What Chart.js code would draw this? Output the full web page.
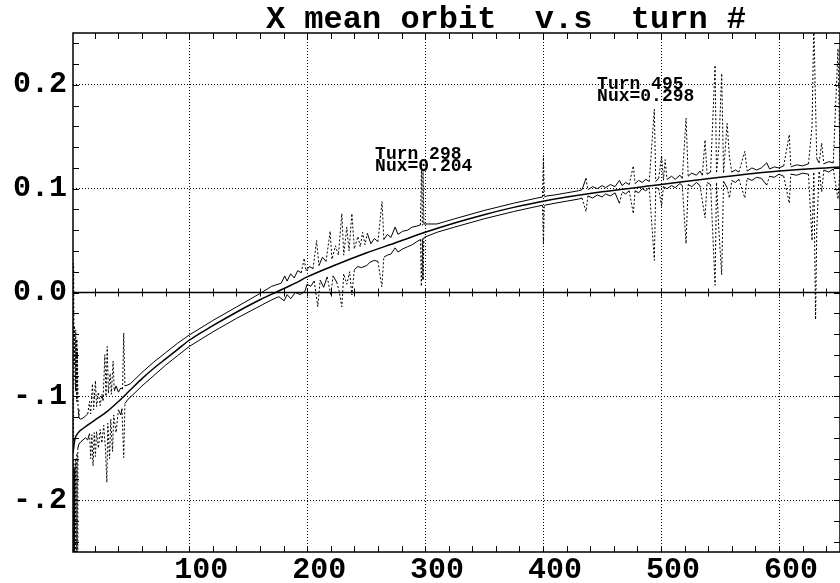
<!DOCTYPE html>
<html>
<head>
<meta charset="utf-8">
<title>X mean orbit v.s turn #</title>
<script src="https://cdn.jsdelivr.net/npm/chart.js@4.4.1/dist/chart.umd.min.js"></script>
<style>
html, body { margin: 0; padding: 0; background: #fff; overflow: hidden; }
#wrap { width: 840px; height: 583px; }
</style>
</head>
<body>
<div id="wrap"><canvas id="orbitChart"></canvas></div>
<script>
// X mean orbit vs turn number (tracking output)

const chartTitle = 'X mean orbit  v.s  turn #';
const xTicks = [100, 200, 300, 400, 500, 600];
const yTicks = [-0.2, -0.1, 0.0, 0.1, 0.2];
const yTickLabels = ['-.2', '-.1', '0.0', '0.1', '0.2'];

// centre (mean) orbit
const meanTurns = [1.5, 3, 6, 10, 20, 30, 40, 50, 60, 70, 80, 90, 100, 120, 140, 160, 175, 190, 200,
    225, 250, 275, 300, 325, 350, 375, 400, 450, 500, 550, 600, 651.7];
const meanOrbit = [-0.155, -0.142, -0.135, -0.131, -0.123, -0.115, -0.105, -0.094, -0.083, -0.073, -0.064,
    -0.055, -0.046, -0.032, -0.019, -0.007, 0.001, 0.009, 0.015, 0.027, 0.038, 0.048, 0.058, 0.067, 0.075,
    0.082, 0.088, 0.097, 0.104, 0.111, 0.117, 0.121];

// upper envelope [turn, x]
const upperEnv = [
    [1.5,-0.150],[2,0.028],[2.4,-0.070],[2.8,-0.032],[3.2,-0.085],[3.6,-0.036],[4,-0.095],[4.4,-0.045],
    [4.8,-0.105],[5.2,-0.055],[5.8,-0.112],[6.5,-0.121],[8,-0.122],[10,-0.121],[12,-0.119],[14,-0.117],
    [15.5,-0.105],[16.5,-0.117],[18,-0.088],[19,-0.113],[20.5,-0.085],[21.5,-0.110],[23,-0.096],[24.5,-0.109],
    [26,-0.098],[27,-0.104],[28.5,-0.060],[29.5,-0.100],[30.5,-0.052],[31.5,-0.097],[33,-0.078],[34,-0.098],
    [35.5,-0.066],[36.5,-0.095],[38,-0.090],[40,-0.096],[42,-0.092],[43.5,-0.093],[44.5,-0.039],[45.5,-0.090],
    [48,-0.089],[50,-0.088],[60,-0.077],[70,-0.067],[80,-0.058],[90,-0.049],[100,-0.041],[120,-0.027],
    [140,-0.014],[160,-0.001],[170,0.006],[178,0.009],[181,0.016],[183,0.011],[186,0.018],[189,0.014],
    [192,0.021],[195,0.019],[197.5,0.033],[199,0.021],[202,0.025],[205,0.023],[208,0.050],[210,0.026],
    [213,0.034],[216,0.030],[219.5,0.059],[221,0.032],[224,0.045],[226.5,0.036],[229.4,0.076],[231,0.036],
    [233.6,0.063],[235.5,0.040],[237.9,0.076],[240,0.042],[243,0.054],[245,0.044],[247,0.058],[249,0.046],
    [251,0.057],[254,0.047],[257,0.052],[260,0.049],[263.5,0.0875],[265,0.051],[268,0.056],[271,0.053],
    [274.6,0.063],[277,0.056],[281,0.059],[285,0.060],[289,0.063],[293,0.064],[296,0.065],[297,0.125],
    [297.6,0.065],[298.2,0.118],[299,0.066],[310,0.066],[325,0.071],[350,0.079],[375,0.086],[395,0.091],
    [399.5,0.092],[400.3,0.132],[401,0.092],[403,0.093],[410,0.094],[420,0.096],[430,0.098],[433,0.099],
    [436.4,0.110],[438,0.099],[442,0.102],[446,0.100],[450,0.103],[453,0.101],[457,0.104],[461,0.102],
    [464.7,0.108],[467,0.103],[470,0.106],[473,0.104],[476.5,0.122],[478,0.105],[481,0.108],[484,0.106],
    [487,0.109],[490,0.107],[494.3,0.1765],[495.5,0.107],[498,0.110],[500.5,0.132],[502,0.108],[503.5,0.128],
    [505,0.109],[509,0.112],[512,0.109],[516,0.113],[518,0.110],[521.2,0.168],[523,0.112],[526,0.115],
    [530,0.113],[533,0.117],[535,0.113],[537.3,0.147],[539,0.114],[542,0.116],[545.8,0.219],[547,0.115],
    [549,0.140],[551.4,0.211],[553,0.115],[556,0.163],[558,0.130],[560,0.116],[563,0.118],[566,0.116],
    [571,0.136],[573,0.117],[577,0.120],[581,0.118],[585,0.120],[589.6,0.125],[592,0.119],[596,0.121],
    [600,0.120],[604,0.122],[608.7,0.152],[610,0.121],[615,0.123],[620,0.122],[625,0.124],[628,0.160],
    [629.5,0.260],[631,0.180],[632,0.129],[634,0.125],[636.2,0.144],[638,0.124],[642,0.126],[646,0.125],
    [650,0.235],[651.7,0.126]
];

// lower envelope [turn, x]
const lowerEnv = [
    [1.5,-0.160],[2,-0.250],[2.4,-0.170],[2.8,-0.250],[3.2,-0.165],[3.6,-0.250],[4,-0.160],[4.4,-0.250],
    [4.8,-0.155],[5.2,-0.250],[5.6,-0.150],[6.5,-0.146],[8,-0.144],[10,-0.142],[12,-0.140],[14,-0.142],
    [15.5,-0.136],[16.5,-0.160],[17.5,-0.137],[18.5,-0.167],[19.5,-0.135],[20.5,-0.158],[21.5,-0.134],
    [23,-0.150],[24.5,-0.132],[26,-0.145],[27.5,-0.128],[29,-0.150],[30.2,-0.183],[31,-0.126],[32.5,-0.160],
    [33.5,-0.122],[35,-0.153],[36,-0.118],[38,-0.135],[40,-0.113],[42,-0.118],[43,-0.112],[44.5,-0.159],
    [45.5,-0.107],[48,-0.103],[50,-0.101],[60,-0.090],[70,-0.080],[80,-0.070],[90,-0.061],[100,-0.052],
    [120,-0.038],[140,-0.025],[160,-0.013],[170,-0.007],[176,-0.004],[180.5,-0.008],[183,-0.002],[186,-0.006],
    [190,0.000],[194,-0.002],[198,0.001],[200,0.008],[203,0.006],[206,0.011],[209,-0.0137],[211,0.012],
    [214,0.005],[217,0.015],[220,-0.0024],[222,0.016],[225,0.010],[227,0.002],[229.4,-0.0137],[231,0.018],
    [233.6,0.008],[236,0.020],[237.9,-0.0024],[240,0.022],[243,0.025],[246,0.024],[250.6,0.026],[253,0.029],
    [257,0.031],[260,0.030],[263.3,0.0056],[265,0.034],[268,0.036],[271,0.037],[274.6,0.043],[277,0.039],
    [281,0.042],[285,0.044],[289,0.046],[293,0.049],[296,0.051],[296.8,0.006],[297.6,0.052],[298.2,0.012],
    [299,0.053],[310,0.058],[325,0.063],[350,0.071],[375,0.078],[395,0.083],[399.5,0.084],[400.3,0.046],
    [401,0.084],[410,0.086],[420,0.088],[430,0.090],[433,0.091],[436.4,0.078],[438,0.093],[442,0.091],
    [446,0.094],[450,0.092],[453,0.095],[457,0.093],[461,0.096],[464.7,0.086],[467,0.097],[470,0.095],
    [473,0.098],[476.5,0.076],[478,0.098],[481,0.096],[484,0.100],[487,0.098],[490,0.101],[494.3,0.031],
    [495.5,0.101],[498,0.100],[500.5,0.083],[502,0.102],[505,0.100],[509,0.103],[512,0.101],[516,0.105],
    [518,0.103],[521.2,0.047],[523,0.104],[526,0.102],[530,0.106],[533,0.103],[537.3,0.072],[539,0.106],
    [542,0.104],[545.8,0.007],[547,0.106],[549,0.060],[551.4,0.017],[553,0.107],[556,0.101],[558,0.091],
    [560,0.108],[563,0.106],[566,0.109],[571,0.091],[573,0.110],[577,0.108],[581,0.111],[585,0.110],
    [589.6,0.1035],[592,0.112],[596,0.111],[600,0.114],[604,0.112],[608.7,0.086],[610,0.114],[615,0.113],
    [620,0.115],[625,0.114],[628,0.050],[629.5,0.116],[631,-0.026],[632,0.060],[634,0.117],[636.2,0.097],
    [638,0.118],[642,0.116],[646,0.119],[650,0.090],[651.7,0.118]
];

// text notes placed in data coords (left edge, first baseline)
const noteTurns = [257.6, 445.8];
const noteVals = [0.1286, 0.1965];
const noteLines = [['Turn 298', 'Nux=0.204'], ['Turn 495', 'Nux=0.298']];

const MONO = '"Liberation Mono", "DejaVu Sans Mono", monospace';

// steep segments look dotted in the original plot
function spikeDash(ctx) {
    const dx = Math.abs(ctx.p1.x - ctx.p0.x);
    const dy = Math.abs(ctx.p1.y - ctx.p0.y);
    return (dy > 8 && dy > 3 * dx) ? [2, 2] : undefined;
}

const framePlugin = {
    id: 'frame',
    afterDatasetsDraw(chart) {
        const { ctx, chartArea: a, scales: { x, y } } = chart;
        ctx.save();
        ctx.strokeStyle = '#000';
        ctx.lineWidth = 1.5;
        ctx.strokeRect(a.left, a.top, a.right - a.left, a.bottom - a.top);

        // zero line
        const y0 = y.getPixelForValue(0);
        ctx.beginPath();
        ctx.moveTo(a.left, y0);
        ctx.lineTo(a.right, y0);
        ctx.stroke();

        ctx.lineWidth = 1;
        ctx.beginPath();
        for (let t = 20; t <= 640; t += 20) {
            const px = Math.round(x.getPixelForValue(t)) + 0.5;
            ctx.moveTo(px, a.top); ctx.lineTo(px, a.top + 6);
            ctx.moveTo(px, a.bottom); ctx.lineTo(px, a.bottom - 6);
            ctx.moveTo(px, y0 - 4); ctx.lineTo(px, y0 + 4);
        }
        for (let k = -12; k <= 12; k++) {
            const py = Math.round(y.getPixelForValue(k * 0.02)) + 0.5;
            ctx.moveTo(a.left, py); ctx.lineTo(a.left + 6, py);
            ctx.moveTo(a.right, py); ctx.lineTo(a.right - 6, py);
        }
        ctx.stroke();
        ctx.restore();
    },
    afterDraw(chart) {
        const { ctx, scales: { x, y } } = chart;
        ctx.save();
        ctx.fillStyle = '#000';
        ctx.font = 'bold 32px ' + MONO;
        ctx.textAlign = 'center';
        ctx.textBaseline = 'alphabetic';
        ctx.fillText(chartTitle, 506, 28);

        ctx.font = 'bold 18px ' + MONO;
        ctx.textAlign = 'left';
        noteLines.forEach((lines, i) => {
            const px = x.getPixelForValue(noteTurns[i]);
            const py = y.getPixelForValue(noteVals[i]);
            lines.forEach((s, j) => ctx.fillText(s, px, py + j * 12.4));
        });
        ctx.restore();
    }
};

const lineDefaults = {
    borderColor: '#000',
    pointRadius: 0,
    fill: false
};

new Chart(document.getElementById('orbitChart'), {
    type: 'line',
    data: {
        datasets: [
            {
                ...lineDefaults,
                label: 'mean',
                data: meanTurns.map((t, i) => ({ x: t, y: meanOrbit[i] })),
                borderWidth: 1.5,
                cubicInterpolationMode: 'monotone'
            },
            {
                ...lineDefaults,
                label: 'upper',
                data: upperEnv.map(p => ({ x: p[0], y: p[1] })),
                borderWidth: 1,
                tension: 0,
                segment: { borderDash: spikeDash }
            },
            {
                ...lineDefaults,
                label: 'lower',
                data: lowerEnv.map(p => ({ x: p[0], y: p[1] })),
                borderWidth: 1,
                tension: 0,
                segment: { borderDash: spikeDash }
            }
        ]
    },
    options: {
        responsive: true,
        maintainAspectRatio: false,
        devicePixelRatio: 1,
        animation: false,
        layout: { padding: { top: 33, left: 0, right: 0, bottom: 0 } },
        plugins: {
            legend: { display: false },
            tooltip: { enabled: false },
            title: { display: false }
        },
        scales: {
            x: {
                type: 'linear',
                min: 1.5,
                max: 651.7,
                afterBuildTicks: s => { s.ticks = xTicks.map(v => ({ value: v })); },
                afterFit: s => { s.height = 31; },
                grid: { color: '#000', lineWidth: 1, drawTicks: false },
                border: { display: false, dash: [1, 2] },
                ticks: {
                    color: '#000',
                    font: { family: MONO, size: 30, weight: 'bold' },
                    padding: 0,
                    labelOffset: 12,
                    maxRotation: 0,
                    callback: v => String(v)
                }
            },
            y: {
                min: -0.25,
                max: 0.25,
                afterBuildTicks: s => { s.ticks = yTicks.map(v => ({ value: v })); },
                afterFit: s => { s.width = 73; },
                grid: { color: '#000', lineWidth: 1, drawTicks: false },
                border: { display: false, dash: [1, 2] },
                ticks: {
                    color: '#000',
                    font: { family: MONO, size: 30, weight: 'bold' },
                    padding: 6,
                    callback: (v, i) => yTickLabels[i]
                }
            }
        }
    },
    plugins: [framePlugin]
});
</script>
</body>
</html>
